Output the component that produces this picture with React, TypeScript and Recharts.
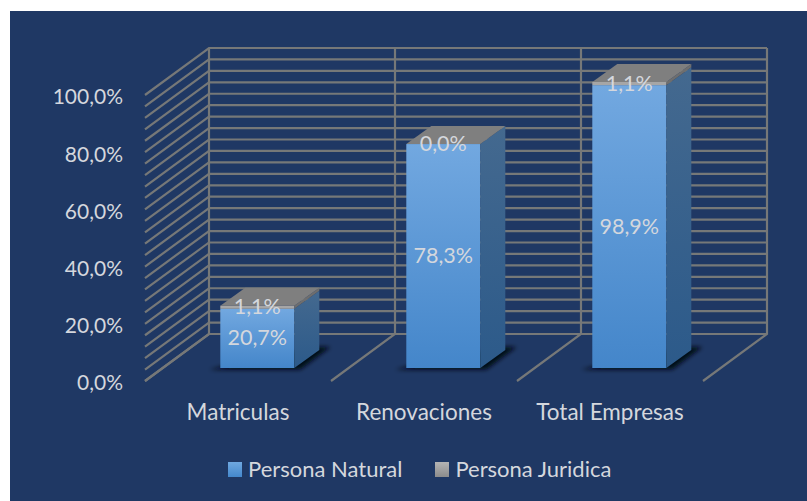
import { Bar, BarChart, LabelList, Legend, XAxis, YAxis, usePlotArea } from "recharts";

const categories = ["Matriculas", "Renovaciones", "Total Empresas"];
const personaNatural = [20.7, 78.3, 98.9];
const personaJuridica = [1.1, 0.0, 1.1];
const yTicks = [0, 20, 40, 60, 80, 100];
const gridValues = [0, 4, 8, 12, 16, 20, 24, 28, 32, 36, 40, 44, 48, 52, 56, 60, 64, 68, 72, 76, 80, 84, 88, 92, 96, 100];

const data = categories.map((name, i) => ({
  name,
  natural: personaNatural[i],
  juridica: personaJuridica[i],
}));

const BG = "#1f3864";
const TEXT = "#d4d7dd";
const GRID = "#767878";
const FONT = "Lato, 'Open Sans', sans-serif";

// 3d look: back wall depth, and how far the bars sit from the front plane
const WALL_DX = 64;
const WALL_DY = -47;
const BAR_DX = 19.5;
const BAR_DY = -13;
const BOX_DX = 25;
const BOX_DY = -18;

const pct = (v: number) => `${v.toFixed(1).replace(".", ",")}%`;

function Wall() {
  const plot = usePlotArea();
  if (!plot) return null;
  const { x, y, width, height } = plot;
  const yOf = (v: number) => y + height * (1 - v / 100);
  const step = width / categories.length;
  const cols = [0, 1, 2, 3];
  return (
    <g stroke={GRID} strokeWidth={2.2} fill="none">
      {gridValues.map((v) => (
        <polyline
          key={v}
          points={`${x},${yOf(v)} ${x + WALL_DX},${yOf(v) + WALL_DY} ${x + width + WALL_DX},${yOf(v) + WALL_DY}`}
        />
      ))}
      {cols.map((c) => (
        <polyline
          key={c}
          points={`${x + c * step},${y + height} ${x + c * step + WALL_DX},${y + height + WALL_DY} ${x + c * step + WALL_DX},${y + WALL_DY}`}
        />
      ))}
    </g>
  );
}

function Box(props: any) {
  const { x, y, width, height, capped, grey } = props;
  const l = x + BAR_DX;
  const r = l + width;
  const t = y + BAR_DY;
  const b = t + height;
  return (
    <g>
      {!grey && (
        <polygon
          points={`${l - 11},${b + 1.5} ${r + 6},${b + 1.5} ${r + BOX_DX + 11},${b + BOX_DY - 3} ${r + BOX_DX - 8},${b + BOX_DY - 3}`}
          fill="#040914"
          filter="url(#shadowBlur)"
        />
      )}
      <rect x={l} y={t} width={width} height={Math.max(height, 0)} fill={grey ? "#a6a6a6" : "url(#frontBlue)"} />
      <polygon
        points={`${r},${t} ${r + BOX_DX},${t + BOX_DY} ${r + BOX_DX},${b + BOX_DY} ${r},${b}`}
        fill={grey ? "#6e6e6e" : "url(#sideBlue)"}
      />
      {capped && (
        <polygon
          points={`${l},${t} ${l + BOX_DX},${t + BOX_DY} ${r + BOX_DX},${t + BOX_DY} ${r},${t}`}
          fill="#7f7f7f"
        />
      )}
    </g>
  );
}

function ShiftedLabel(props: any) {
  const { x, y, width, height, value } = props;
  return (
    <text
      x={x + width / 2 + BAR_DX}
      y={y + height / 2 + BAR_DY - 1}
      fill={TEXT}
      fontSize={21.5}
      fontFamily={FONT}
      textAnchor="middle"
      dominantBaseline="central"
    >
      {pct(value)}
    </text>
  );
}

function LegendRow() {
  const items = [
    { label: "Persona Natural", bg: "linear-gradient(#6fa8e0, #4488cc)" },
    { label: "Persona Juridica", bg: "linear-gradient(#b4b4b4, #8c8c8c)" },
  ];
  return (
    <div style={{ display: "flex", gap: 33, fontFamily: FONT, fontSize: 22, color: TEXT, lineHeight: "24px" }}>
      {items.map((it) => (
        <div key={it.label} style={{ display: "flex", alignItems: "center", gap: 6 }}>
          <span style={{ width: 14, height: 15, background: it.bg, display: "inline-block" }} />
          {it.label}
        </div>
      ))}
    </div>
  );
}

export default function App() {
  return (
    <div style={{ position: "absolute", left: 0, top: 0, width: 807, height: 501, background: "#fff", overflow: "hidden" }}>
      <div style={{ position: "absolute", left: 10, top: 11, width: 797, height: 490, background: BG }}>
        <BarChart
          width={797}
          height={490}
          data={data}
          margin={{ top: 84, right: 104, bottom: 66, left: 0 }}
          barCategoryGap="30%"
        >
          <defs>
            <linearGradient id="frontBlue" x1="0" y1="0" x2="0" y2="1">
              <stop offset="0%" stopColor="#72a8e0" />
              <stop offset="100%" stopColor="#4486ca" />
            </linearGradient>
            <linearGradient id="sideBlue" x1="0" y1="0" x2="0" y2="1">
              <stop offset="0%" stopColor="#44698f" />
              <stop offset="100%" stopColor="#2c5a8a" />
            </linearGradient>
            <filter id="shadowBlur" x="-20%" y="-50%" width="140%" height="200%">
              <feGaussianBlur stdDeviation="2.2" />
            </filter>
          </defs>
          <Wall />
          <XAxis
            dataKey="name"
            axisLine={false}
            tickLine={false}
            tickMargin={17}
            tick={{ fill: TEXT, fontSize: 22.5, fontFamily: FONT }}
            interval={0}
          />
          <YAxis
            width={135}
            domain={[0, 100]}
            ticks={yTicks}
            axisLine={false}
            tickLine={false}
            tickMargin={16}
            tickFormatter={pct}
            tick={{ fill: TEXT, fontSize: 21, fontFamily: FONT, dy: 2 }}
          />
          <Legend content={<LegendRow />} verticalAlign="bottom" wrapperStyle={{ left: 218, bottom: 20, width: "auto" }} />
          <Bar
            dataKey="natural"
            stackId="a"
            isAnimationActive={false}
            shape={(p: any) => <Box {...p} />}
          >
            <LabelList dataKey="natural" content={<ShiftedLabel />} />
          </Bar>
          <Bar
            dataKey="juridica"
            stackId="a"
            isAnimationActive={false}
            shape={(p: any) => <Box {...p} grey capped />}
          >
            <LabelList dataKey="juridica" content={<ShiftedLabel />} />
          </Bar>
        </BarChart>
      </div>
    </div>
  );
}
